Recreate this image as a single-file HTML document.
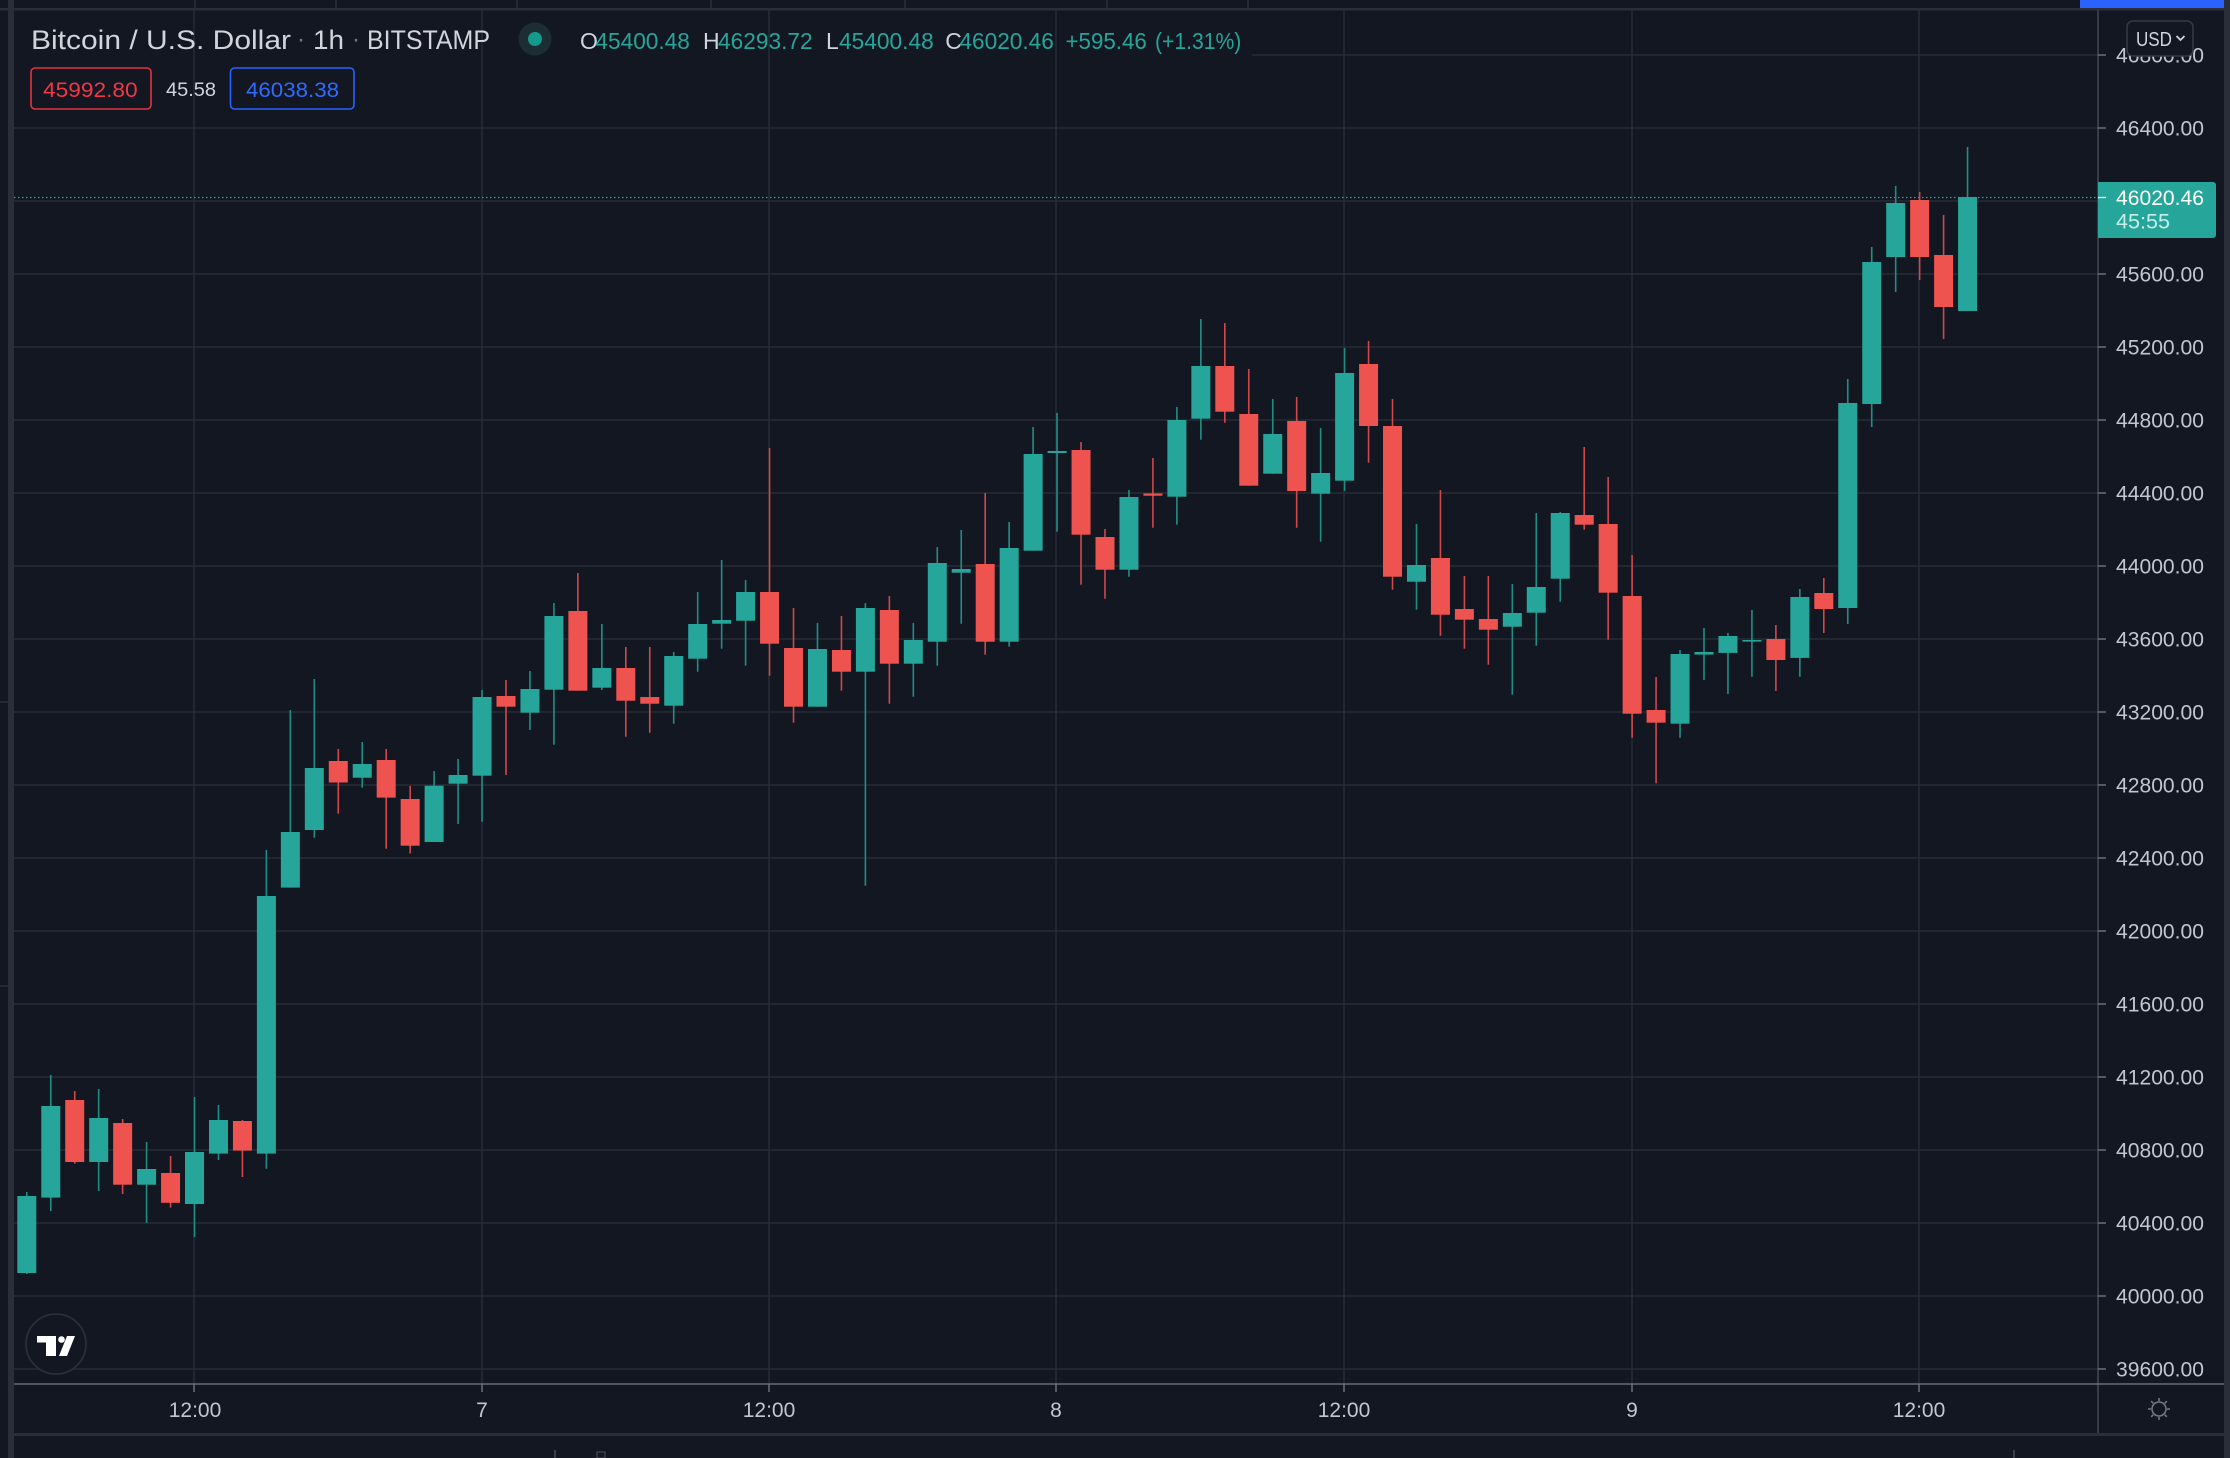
<!DOCTYPE html>
<html><head><meta charset="utf-8"><style>
html,body{margin:0;padding:0;background:#131722;}
svg{display:block;}
text{font-family:"Liberation Sans",sans-serif;}
.g rect{fill:#26a69a}.g line{stroke:#1f8f85;stroke-width:1.6}
.r rect{fill:#ef5350}.r line{stroke:#d2474a;stroke-width:1.6}
.gh line{stroke:#2b2f3b;stroke-width:1.3}
.pl{font-size:21px;fill:#c3c6ce}
.tl{font-size:21px;fill:#c3c6ce;text-anchor:middle}
</style></head><body>
<svg width="2230" height="1458" viewBox="0 0 2230 1458" xmlns="http://www.w3.org/2000/svg">
<rect x="0" y="0" width="2230" height="1458" fill="#131722"/>
<!-- top strip -->
<rect x="0" y="8" width="2230" height="2.5" fill="#2a2e39"/>
<g stroke="#2a2e39" stroke-width="1.5">
<line x1="195" y1="0" x2="195" y2="8"/><line x1="336" y1="0" x2="336" y2="8"/><line x1="517" y1="0" x2="517" y2="8"/><line x1="711" y1="0" x2="711" y2="8"/><line x1="905" y1="0" x2="905" y2="8"/><line x1="1107" y1="0" x2="1107" y2="8"/><line x1="1248" y1="0" x2="1248" y2="8"/>
</g>
<rect x="2080" y="0" width="144" height="8" fill="#2962ff"/>
<!-- left & right strips -->
<rect x="8" y="0" width="6" height="1458" fill="#2a2e39"/>
<rect x="2224" y="0" width="6" height="1458" fill="#2a2e39"/>
<line x1="0" y1="702" x2="8" y2="702" stroke="#2a2e39" stroke-width="1.5"/>
<line x1="0" y1="986" x2="8" y2="986" stroke="#2a2e39" stroke-width="1.5"/>

<!-- grid -->
<g class="gh">
<line x1="1252" y1="55" x2="2098" y2="55"/>
<line x1="14" y1="128" x2="2098" y2="128"/>
<line x1="14" y1="201" x2="2098" y2="201"/>
<line x1="14" y1="274" x2="2098" y2="274"/>
<line x1="14" y1="347" x2="2098" y2="347"/>
<line x1="14" y1="420" x2="2098" y2="420"/>
<line x1="14" y1="493" x2="2098" y2="493"/>
<line x1="14" y1="566" x2="2098" y2="566"/>
<line x1="14" y1="639" x2="2098" y2="639"/>
<line x1="14" y1="712" x2="2098" y2="712"/>
<line x1="14" y1="785" x2="2098" y2="785"/>
<line x1="14" y1="858" x2="2098" y2="858"/>
<line x1="14" y1="931" x2="2098" y2="931"/>
<line x1="14" y1="1004" x2="2098" y2="1004"/>
<line x1="14" y1="1077" x2="2098" y2="1077"/>
<line x1="14" y1="1150" x2="2098" y2="1150"/>
<line x1="14" y1="1223" x2="2098" y2="1223"/>
<line x1="14" y1="1296" x2="2098" y2="1296"/>
<line x1="14" y1="1369" x2="2098" y2="1369"/>
<line x1="194" y1="10" x2="194" y2="1384"/>
<line x1="482" y1="10" x2="482" y2="1384"/>
<line x1="769" y1="10" x2="769" y2="1384"/>
<line x1="1056" y1="10" x2="1056" y2="1384"/>
<line x1="1344" y1="10" x2="1344" y2="1384"/>
<line x1="1632" y1="10" x2="1632" y2="1384"/>
<line x1="1919" y1="10" x2="1919" y2="1384"/>
</g>

<!-- current price dotted line -->
<line x1="14" y1="197.5" x2="2098" y2="197.5" stroke="#26a69a" stroke-width="1.2" stroke-dasharray="1.5 2.5"/>

<!-- candles -->
<g class="g" transform="translate(26.8)"><line x1="0" x2="0" y1="1192" y2="1274"/><rect x="-9.5" width="19" y="1196" height="77"/></g>
<g class="g" transform="translate(50.76)"><line x1="0" x2="0" y1="1075" y2="1211"/><rect x="-9.5" width="19" y="1106" height="91.6"/></g>
<g class="r" transform="translate(74.72)"><line x1="0" x2="0" y1="1091" y2="1163.6"/><rect x="-9.5" width="19" y="1100" height="62"/></g>
<g class="g" transform="translate(98.68)"><line x1="0" x2="0" y1="1089" y2="1191"/><rect x="-9.5" width="19" y="1118" height="44"/></g>
<g class="r" transform="translate(122.64)"><line x1="0" x2="0" y1="1119" y2="1194"/><rect x="-9.5" width="19" y="1123" height="61.7"/></g>
<g class="g" transform="translate(146.6)"><line x1="0" x2="0" y1="1142" y2="1223"/><rect x="-9.5" width="19" y="1169" height="15.7"/></g>
<g class="r" transform="translate(170.56)"><line x1="0" x2="0" y1="1156" y2="1207.6"/><rect x="-9.5" width="19" y="1173" height="29.8"/></g>
<g class="g" transform="translate(194.52)"><line x1="0" x2="0" y1="1097" y2="1237"/><rect x="-9.5" width="19" y="1152" height="52"/></g>
<g class="g" transform="translate(218.48)"><line x1="0" x2="0" y1="1105" y2="1160"/><rect x="-9.5" width="19" y="1120" height="33.6"/></g>
<g class="r" transform="translate(242.44)"><line x1="0" x2="0" y1="1120" y2="1177"/><rect x="-9.5" width="19" y="1121" height="29.6"/></g>
<g class="g" transform="translate(266.4)"><line x1="0" x2="0" y1="850" y2="1168.8"/><rect x="-9.5" width="19" y="896" height="257.6"/></g>
<g class="g" transform="translate(290.36)"><line x1="0" x2="0" y1="710" y2="887.6"/><rect x="-9.5" width="19" y="832" height="55.6"/></g>
<g class="g" transform="translate(314.32)"><line x1="0" x2="0" y1="679" y2="837.8"/><rect x="-9.5" width="19" y="768" height="62"/></g>
<g class="r" transform="translate(338.28)"><line x1="0" x2="0" y1="749" y2="813.6"/><rect x="-9.5" width="19" y="761" height="21.5"/></g>
<g class="g" transform="translate(362.24)"><line x1="0" x2="0" y1="742" y2="787.7"/><rect x="-9.5" width="19" y="764" height="13.7"/></g>
<g class="r" transform="translate(386.2)"><line x1="0" x2="0" y1="749" y2="848.7"/><rect x="-9.5" width="19" y="760" height="37.6"/></g>
<g class="r" transform="translate(410.16)"><line x1="0" x2="0" y1="786" y2="853.5"/><rect x="-9.5" width="19" y="799" height="46.7"/></g>
<g class="g" transform="translate(434.12)"><line x1="0" x2="0" y1="771" y2="842"/><rect x="-9.5" width="19" y="785.7" height="56.3"/></g>
<g class="g" transform="translate(458.08)"><line x1="0" x2="0" y1="759" y2="824"/><rect x="-9.5" width="19" y="775" height="8.7"/></g>
<g class="g" transform="translate(482.04)"><line x1="0" x2="0" y1="690" y2="821.7"/><rect x="-9.5" width="19" y="697" height="78.7"/></g>
<g class="r" transform="translate(506)"><line x1="0" x2="0" y1="680" y2="775"/><rect x="-9.5" width="19" y="696" height="10.7"/></g>
<g class="g" transform="translate(529.96)"><line x1="0" x2="0" y1="671" y2="730"/><rect x="-9.5" width="19" y="689" height="23.7"/></g>
<g class="g" transform="translate(553.92)"><line x1="0" x2="0" y1="603" y2="744.7"/><rect x="-9.5" width="19" y="616" height="73.7"/></g>
<g class="r" transform="translate(577.88)"><line x1="0" x2="0" y1="573" y2="690.7"/><rect x="-9.5" width="19" y="611" height="79.7"/></g>
<g class="g" transform="translate(601.84)"><line x1="0" x2="0" y1="624" y2="690"/><rect x="-9.5" width="19" y="668" height="19.7"/></g>
<g class="r" transform="translate(625.8)"><line x1="0" x2="0" y1="647" y2="736.7"/><rect x="-9.5" width="19" y="668" height="32.7"/></g>
<g class="r" transform="translate(649.76)"><line x1="0" x2="0" y1="647" y2="732.7"/><rect x="-9.5" width="19" y="697" height="6.7"/></g>
<g class="g" transform="translate(673.72)"><line x1="0" x2="0" y1="652" y2="723.7"/><rect x="-9.5" width="19" y="656" height="49.7"/></g>
<g class="g" transform="translate(697.68)"><line x1="0" x2="0" y1="592" y2="671.7"/><rect x="-9.5" width="19" y="624" height="34.7"/></g>
<g class="g" transform="translate(721.64)"><line x1="0" x2="0" y1="560" y2="648.7"/><rect x="-9.5" width="19" y="620" height="3.7"/></g>
<g class="g" transform="translate(745.6)"><line x1="0" x2="0" y1="580" y2="665.7"/><rect x="-9.5" width="19" y="592" height="28.7"/></g>
<g class="r" transform="translate(769.56)"><line x1="0" x2="0" y1="448" y2="675.7"/><rect x="-9.5" width="19" y="592" height="51.7"/></g>
<g class="r" transform="translate(793.52)"><line x1="0" x2="0" y1="608" y2="722.7"/><rect x="-9.5" width="19" y="648" height="58.7"/></g>
<g class="g" transform="translate(817.48)"><line x1="0" x2="0" y1="623" y2="706.7"/><rect x="-9.5" width="19" y="649" height="57.7"/></g>
<g class="r" transform="translate(841.44)"><line x1="0" x2="0" y1="616" y2="690.7"/><rect x="-9.5" width="19" y="650" height="21.7"/></g>
<g class="g" transform="translate(865.4)"><line x1="0" x2="0" y1="603" y2="885.7"/><rect x="-9.5" width="19" y="608" height="63.7"/></g>
<g class="r" transform="translate(889.36)"><line x1="0" x2="0" y1="596" y2="703.7"/><rect x="-9.5" width="19" y="610" height="53.7"/></g>
<g class="g" transform="translate(913.32)"><line x1="0" x2="0" y1="623" y2="696.7"/><rect x="-9.5" width="19" y="640" height="23.7"/></g>
<g class="g" transform="translate(937.28)"><line x1="0" x2="0" y1="547" y2="665.7"/><rect x="-9.5" width="19" y="563" height="78.7"/></g>
<g class="g" transform="translate(961.24)"><line x1="0" x2="0" y1="530" y2="623.7"/><rect x="-9.5" width="19" y="569" height="3.7"/></g>
<g class="r" transform="translate(985.2)"><line x1="0" x2="0" y1="493" y2="654.7"/><rect x="-9.5" width="19" y="564" height="77.7"/></g>
<g class="g" transform="translate(1009.16)"><line x1="0" x2="0" y1="522" y2="646.7"/><rect x="-9.5" width="19" y="548" height="93.7"/></g>
<g class="g" transform="translate(1033.12)"><line x1="0" x2="0" y1="427" y2="550.7"/><rect x="-9.5" width="19" y="454" height="96.7"/></g>
<g class="g" transform="translate(1057.08)"><line x1="0" x2="0" y1="413" y2="531.7"/><rect x="-9.5" width="19" y="451" height="2"/></g>
<g class="r" transform="translate(1081.04)"><line x1="0" x2="0" y1="442" y2="584.7"/><rect x="-9.5" width="19" y="450" height="84.7"/></g>
<g class="r" transform="translate(1105)"><line x1="0" x2="0" y1="529" y2="598.7"/><rect x="-9.5" width="19" y="537" height="32.7"/></g>
<g class="g" transform="translate(1128.96)"><line x1="0" x2="0" y1="490" y2="576.7"/><rect x="-9.5" width="19" y="497" height="72.7"/></g>
<g class="r" transform="translate(1152.92)"><line x1="0" x2="0" y1="458" y2="527.7"/><rect x="-9.5" width="19" y="493.5" height="2.2"/></g>
<g class="g" transform="translate(1176.88)"><line x1="0" x2="0" y1="407" y2="524.7"/><rect x="-9.5" width="19" y="420" height="76.7"/></g>
<g class="g" transform="translate(1200.84)"><line x1="0" x2="0" y1="319" y2="439.7"/><rect x="-9.5" width="19" y="366" height="52.7"/></g>
<g class="r" transform="translate(1224.8)"><line x1="0" x2="0" y1="323" y2="422.7"/><rect x="-9.5" width="19" y="366" height="45.7"/></g>
<g class="r" transform="translate(1248.76)"><line x1="0" x2="0" y1="369" y2="485.7"/><rect x="-9.5" width="19" y="414" height="71.7"/></g>
<g class="g" transform="translate(1272.72)"><line x1="0" x2="0" y1="399" y2="473.7"/><rect x="-9.5" width="19" y="434" height="39.7"/></g>
<g class="r" transform="translate(1296.68)"><line x1="0" x2="0" y1="397" y2="527.7"/><rect x="-9.5" width="19" y="421" height="70"/></g>
<g class="g" transform="translate(1320.64)"><line x1="0" x2="0" y1="428" y2="541.7"/><rect x="-9.5" width="19" y="473" height="20.7"/></g>
<g class="g" transform="translate(1344.6)"><line x1="0" x2="0" y1="348" y2="491"/><rect x="-9.5" width="19" y="373" height="107.7"/></g>
<g class="r" transform="translate(1368.56)"><line x1="0" x2="0" y1="341" y2="462.7"/><rect x="-9.5" width="19" y="364" height="62"/></g>
<g class="r" transform="translate(1392.52)"><line x1="0" x2="0" y1="399" y2="589.7"/><rect x="-9.5" width="19" y="426" height="150.7"/></g>
<g class="g" transform="translate(1416.48)"><line x1="0" x2="0" y1="524" y2="609.7"/><rect x="-9.5" width="19" y="565" height="16.7"/></g>
<g class="r" transform="translate(1440.44)"><line x1="0" x2="0" y1="490" y2="635.7"/><rect x="-9.5" width="19" y="558" height="56.7"/></g>
<g class="r" transform="translate(1464.4)"><line x1="0" x2="0" y1="576" y2="648.7"/><rect x="-9.5" width="19" y="609" height="10.7"/></g>
<g class="r" transform="translate(1488.36)"><line x1="0" x2="0" y1="576" y2="664.7"/><rect x="-9.5" width="19" y="619" height="10.7"/></g>
<g class="g" transform="translate(1512.32)"><line x1="0" x2="0" y1="584" y2="694.7"/><rect x="-9.5" width="19" y="613" height="13.7"/></g>
<g class="g" transform="translate(1536.28)"><line x1="0" x2="0" y1="513" y2="645.7"/><rect x="-9.5" width="19" y="587" height="25.7"/></g>
<g class="g" transform="translate(1560.24)"><line x1="0" x2="0" y1="512" y2="601.7"/><rect x="-9.5" width="19" y="513" height="65.7"/></g>
<g class="r" transform="translate(1584.2)"><line x1="0" x2="0" y1="447" y2="529.7"/><rect x="-9.5" width="19" y="515" height="9.7"/></g>
<g class="r" transform="translate(1608.16)"><line x1="0" x2="0" y1="477" y2="639.7"/><rect x="-9.5" width="19" y="524" height="68.7"/></g>
<g class="r" transform="translate(1632.12)"><line x1="0" x2="0" y1="555" y2="737.7"/><rect x="-9.5" width="19" y="596" height="117.7"/></g>
<g class="r" transform="translate(1656.08)"><line x1="0" x2="0" y1="677" y2="783.3"/><rect x="-9.5" width="19" y="710" height="12.7"/></g>
<g class="g" transform="translate(1680.04)"><line x1="0" x2="0" y1="650" y2="737.7"/><rect x="-9.5" width="19" y="654" height="69.7"/></g>
<g class="g" transform="translate(1704)"><line x1="0" x2="0" y1="628" y2="680"/><rect x="-9.5" width="19" y="652" height="2.6"/></g>
<g class="g" transform="translate(1727.96)"><line x1="0" x2="0" y1="633" y2="694"/><rect x="-9.5" width="19" y="636" height="16.9"/></g>
<g class="g" transform="translate(1751.92)"><line x1="0" x2="0" y1="610" y2="676.8"/><rect x="-9.5" width="19" y="640" height="1.6"/></g>
<g class="r" transform="translate(1775.88)"><line x1="0" x2="0" y1="625" y2="691"/><rect x="-9.5" width="19" y="639" height="21"/></g>
<g class="g" transform="translate(1799.84)"><line x1="0" x2="0" y1="589" y2="676.8"/><rect x="-9.5" width="19" y="597" height="60.9"/></g>
<g class="r" transform="translate(1823.8)"><line x1="0" x2="0" y1="578" y2="633"/><rect x="-9.5" width="19" y="593" height="16"/></g>
<g class="g" transform="translate(1847.76)"><line x1="0" x2="0" y1="379" y2="624"/><rect x="-9.5" width="19" y="403" height="205"/></g>
<g class="g" transform="translate(1871.72)"><line x1="0" x2="0" y1="247" y2="427"/><rect x="-9.5" width="19" y="262" height="142"/></g>
<g class="g" transform="translate(1895.68)"><line x1="0" x2="0" y1="186" y2="292"/><rect x="-9.5" width="19" y="203" height="54"/></g>
<g class="r" transform="translate(1919.64)"><line x1="0" x2="0" y1="192" y2="280"/><rect x="-9.5" width="19" y="200" height="57"/></g>
<g class="r" transform="translate(1943.6)"><line x1="0" x2="0" y1="215" y2="339"/><rect x="-9.5" width="19" y="255" height="52"/></g>
<g class="g" transform="translate(1967.56)"><line x1="0" x2="0" y1="147" y2="311"/><rect x="-9.5" width="19" y="197" height="114"/></g>

<!-- legend -->
<text x="31" y="49" font-size="27" fill="#d1d4dc" textLength="260" lengthAdjust="spacingAndGlyphs">Bitcoin / U.S. Dollar</text>
<text x="297" y="47" font-size="24" fill="#787b86">·</text>
<text x="313" y="49" font-size="27" fill="#d1d4dc" textLength="31" lengthAdjust="spacingAndGlyphs">1h</text>
<text x="352" y="47" font-size="24" fill="#787b86">·</text>
<text x="367" y="49" font-size="27" fill="#d1d4dc" textLength="123" lengthAdjust="spacingAndGlyphs">BITSTAMP</text>
<circle cx="535" cy="39" r="16.5" fill="#1c2d33"/>
<circle cx="535" cy="39" r="7" fill="#149a8b"/>
<g font-size="23">
<text x="580" y="49" fill="#d1d4dc">O</text>
<text x="595.4" y="49" fill="#26a69a" textLength="94.5" lengthAdjust="spacingAndGlyphs">45400.48</text>
<text x="703" y="49" fill="#d1d4dc">H</text>
<text x="718" y="49" fill="#26a69a" textLength="94.6" lengthAdjust="spacingAndGlyphs">46293.72</text>
<text x="826" y="49" fill="#d1d4dc">L</text>
<text x="839" y="49" fill="#26a69a" textLength="94.7" lengthAdjust="spacingAndGlyphs">45400.48</text>
<text x="945.3" y="49" fill="#d1d4dc">C</text>
<text x="959.4" y="49" fill="#26a69a" textLength="94.5" lengthAdjust="spacingAndGlyphs">46020.46</text>
<text x="1065.5" y="49" fill="#26a69a" textLength="81.3" lengthAdjust="spacingAndGlyphs">+595.46</text>
<text x="1155" y="49" fill="#26a69a" textLength="86.3" lengthAdjust="spacingAndGlyphs">(+1.31%)</text>
</g>
<rect x="31" y="68" width="120" height="41" rx="4" fill="#131722" stroke="#e0343f" stroke-width="1.6"/>
<text x="43" y="97" font-size="21" fill="#f23645" textLength="94.6" lengthAdjust="spacingAndGlyphs">45992.80</text>
<text x="166" y="96" font-size="19" fill="#d1d4dc" textLength="50" lengthAdjust="spacingAndGlyphs">45.58</text>
<rect x="230.5" y="68" width="123.5" height="41" rx="4" fill="#131722" stroke="#2962ff" stroke-width="1.6"/>
<text x="246" y="97" font-size="21" fill="#2f6bff" textLength="93" lengthAdjust="spacingAndGlyphs">46038.38</text>

<!-- axes lines -->
<line x1="2098" y1="10" x2="2098" y2="1434" stroke="#4c4f5a" stroke-width="1.3"/>
<line x1="14" y1="1384" x2="2224" y2="1384" stroke="#787b86" stroke-width="1.3"/>
<rect x="14" y="1433" width="2210" height="3" fill="#2a2e39"/>
<line x1="555" y1="1450" x2="555" y2="1458" stroke="#50535e" stroke-width="1.3"/>
<line x1="2014" y1="1450" x2="2014" y2="1458" stroke="#50535e" stroke-width="1.3"/>
<rect x="597" y="1452" width="8" height="6" fill="none" stroke="#50535e" stroke-width="1"/>

<!-- price axis ticks -->
<g stroke="#787b86" stroke-width="1.3">
<line x1="2098" x2="2106" y1="55" y2="55"/><line x1="2098" x2="2106" y1="128" y2="128"/><line x1="2098" x2="2106" y1="274" y2="274"/><line x1="2098" x2="2106" y1="347" y2="347"/><line x1="2098" x2="2106" y1="420" y2="420"/><line x1="2098" x2="2106" y1="493" y2="493"/><line x1="2098" x2="2106" y1="566" y2="566"/><line x1="2098" x2="2106" y1="639" y2="639"/><line x1="2098" x2="2106" y1="712" y2="712"/><line x1="2098" x2="2106" y1="785" y2="785"/><line x1="2098" x2="2106" y1="858" y2="858"/><line x1="2098" x2="2106" y1="931" y2="931"/><line x1="2098" x2="2106" y1="1004" y2="1004"/><line x1="2098" x2="2106" y1="1077" y2="1077"/><line x1="2098" x2="2106" y1="1150" y2="1150"/><line x1="2098" x2="2106" y1="1223" y2="1223"/><line x1="2098" x2="2106" y1="1296" y2="1296"/><line x1="2098" x2="2106" y1="1369" y2="1369"/>
<line x1="194" x2="194" y1="1384" y2="1392"/><line x1="482" x2="482" y1="1384" y2="1392"/><line x1="769" x2="769" y1="1384" y2="1392"/><line x1="1056" x2="1056" y1="1384" y2="1392"/><line x1="1344" x2="1344" y1="1384" y2="1392"/><line x1="1632" x2="1632" y1="1384" y2="1392"/><line x1="1919" x2="1919" y1="1384" y2="1392"/>
</g>
<!-- price labels -->
<g class="pl">
<text x="2116" y="62.5" textLength="88" lengthAdjust="spacingAndGlyphs">46800.00</text>
<text x="2116" y="135.5" textLength="88" lengthAdjust="spacingAndGlyphs">46400.00</text>
<text x="2116" y="281.5" textLength="88" lengthAdjust="spacingAndGlyphs">45600.00</text>
<text x="2116" y="354.5" textLength="88" lengthAdjust="spacingAndGlyphs">45200.00</text>
<text x="2116" y="427.5" textLength="88" lengthAdjust="spacingAndGlyphs">44800.00</text>
<text x="2116" y="500.5" textLength="88" lengthAdjust="spacingAndGlyphs">44400.00</text>
<text x="2116" y="573.5" textLength="88" lengthAdjust="spacingAndGlyphs">44000.00</text>
<text x="2116" y="646.5" textLength="88" lengthAdjust="spacingAndGlyphs">43600.00</text>
<text x="2116" y="719.5" textLength="88" lengthAdjust="spacingAndGlyphs">43200.00</text>
<text x="2116" y="792.5" textLength="88" lengthAdjust="spacingAndGlyphs">42800.00</text>
<text x="2116" y="865.5" textLength="88" lengthAdjust="spacingAndGlyphs">42400.00</text>
<text x="2116" y="938.5" textLength="88" lengthAdjust="spacingAndGlyphs">42000.00</text>
<text x="2116" y="1011.5" textLength="88" lengthAdjust="spacingAndGlyphs">41600.00</text>
<text x="2116" y="1084.5" textLength="88" lengthAdjust="spacingAndGlyphs">41200.00</text>
<text x="2116" y="1157.5" textLength="88" lengthAdjust="spacingAndGlyphs">40800.00</text>
<text x="2116" y="1230.5" textLength="88" lengthAdjust="spacingAndGlyphs">40400.00</text>
<text x="2116" y="1303.5" textLength="88" lengthAdjust="spacingAndGlyphs">40000.00</text>
<text x="2116" y="1376.5" textLength="88" lengthAdjust="spacingAndGlyphs">39600.00</text>
</g>
<!-- USD button -->
<rect x="2127" y="21" width="66" height="35" rx="6" fill="#131722" stroke="#363a45" stroke-width="1.5"/>
<text x="2136" y="46" font-size="20" fill="#d1d4dc" textLength="36" lengthAdjust="spacingAndGlyphs">USD</text>
<polyline points="2176.5,36 2180.5,40 2184.5,36" fill="none" stroke="#d1d4dc" stroke-width="1.8"/>
<!-- current price label -->
<path d="M2098 182 H2213 a3 3 0 0 1 3 3 V235 a3 3 0 0 1 -3 3 H2098 Z" fill="#26a69a"/>
<line x1="2098" x2="2106" y1="197.5" y2="197.5" stroke="#e8f6f4" stroke-width="1.3"/>
<text x="2116" y="205" font-size="21" fill="#ffffff" textLength="88" lengthAdjust="spacingAndGlyphs">46020.46</text>
<text x="2116" y="228.5" font-size="21" fill="#c9ece8" textLength="54" lengthAdjust="spacingAndGlyphs">45:55</text>

<!-- time labels -->
<g class="tl">
<text x="195" y="1417">12:00</text>
<text x="482" y="1417">7</text>
<text x="769" y="1417">12:00</text>
<text x="1056" y="1417">8</text>
<text x="1344" y="1417">12:00</text>
<text x="1632" y="1417">9</text>
<text x="1919" y="1417">12:00</text>
</g>
<!-- gear icon -->
<g stroke="#787b86" stroke-width="1.5" fill="none">
<circle cx="2159" cy="1409" r="7"/>
<line x1="2159" y1="1398" x2="2159" y2="1401"/><line x1="2159" y1="1417" x2="2159" y2="1420"/>
<line x1="2148" y1="1409" x2="2151" y2="1409"/><line x1="2167" y1="1409" x2="2170" y2="1409"/>
<line x1="2151.2" y1="1401.2" x2="2153.3" y2="1403.3"/><line x1="2164.7" y1="1414.7" x2="2166.8" y2="1416.8"/>
<line x1="2166.8" y1="1401.2" x2="2164.7" y2="1403.3"/><line x1="2153.3" y1="1414.7" x2="2151.2" y2="1416.8"/>
</g>
<!-- TV logo -->
<circle cx="56" cy="1344" r="30" fill="#131722" stroke="#2a2e39" stroke-width="1.8"/>
<g fill="#ffffff">
<rect x="37" y="1336" width="19" height="6.5"/>
<rect x="46" y="1336" width="10" height="20"/>
<circle cx="61.5" cy="1339.5" r="3.3"/>
<polygon points="67,1336 75,1336 67,1356 59,1356"/>
</g>
</svg>
</body></html>
